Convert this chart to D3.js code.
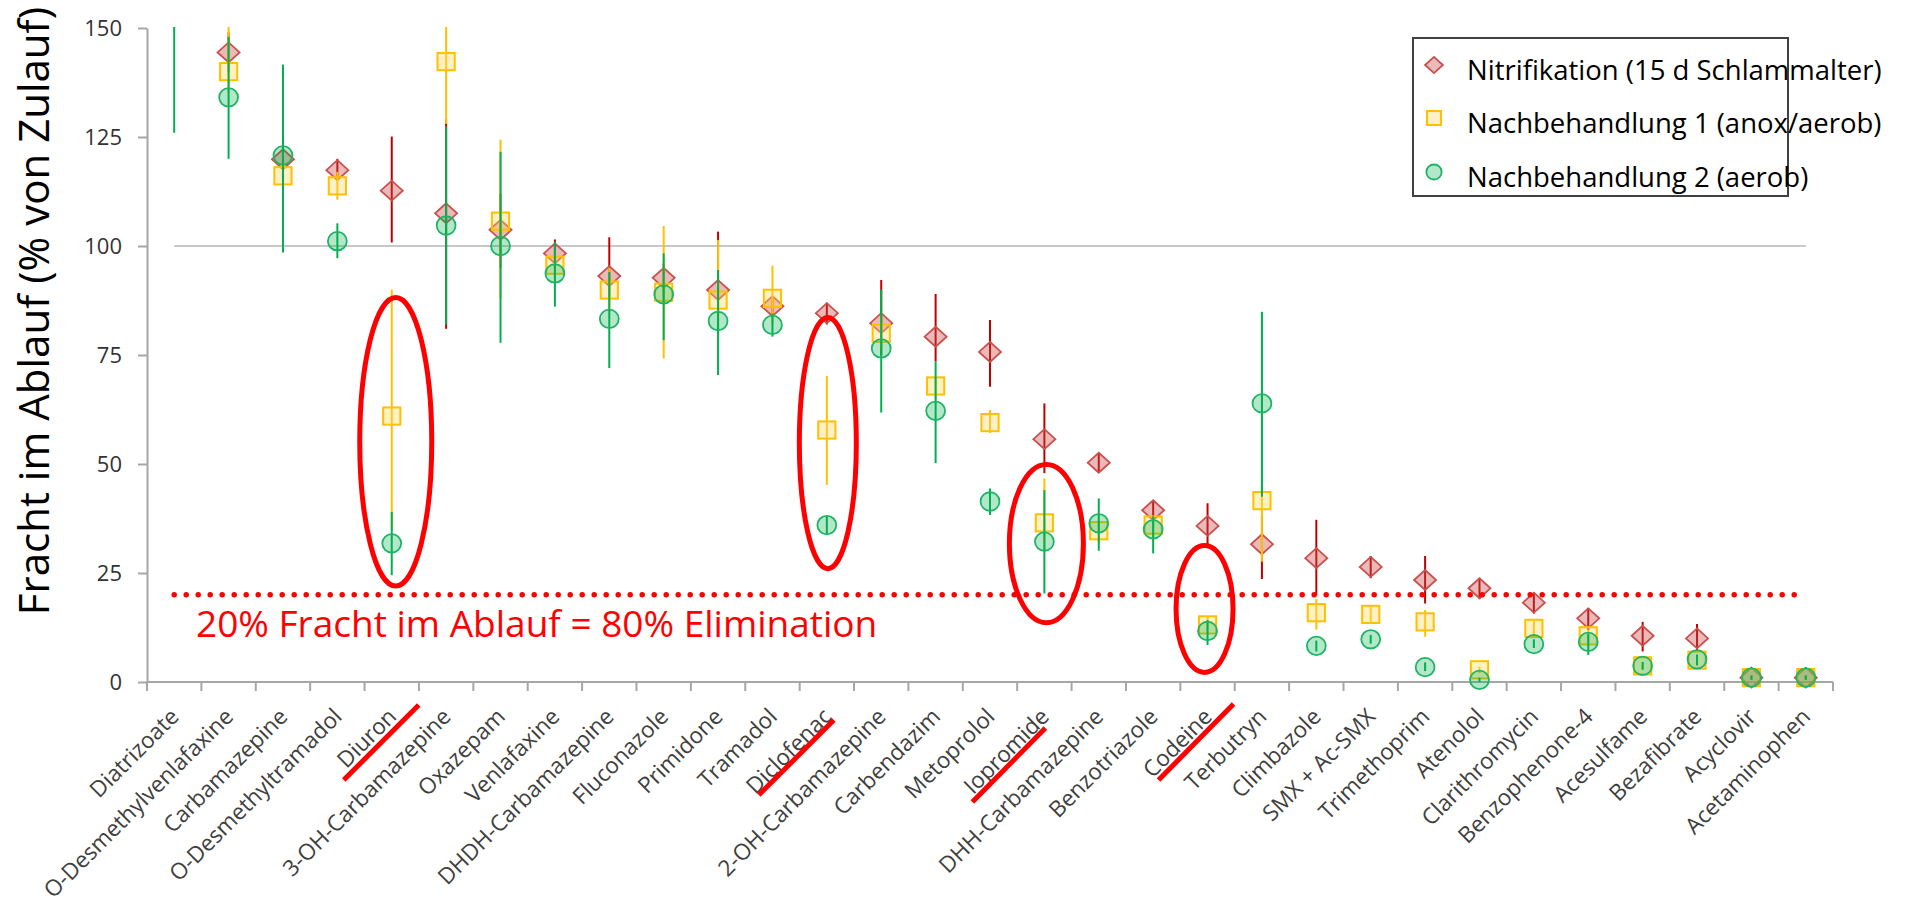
<!DOCTYPE html>
<html>
<head>
<meta charset="utf-8">
<script src="https://cdn.jsdelivr.net/npm/d3@7"></script>
<style>
  body { margin: 0; background: #fff; }
  svg { display: block; font-family: "Open Sans", sans-serif; }
</style>
</head>
<body>
<div id="chart"></div>
<script>
// categories (substances), sorted as in the original
var categories = ["Diatrizoate", "O-Desmethylvenlafaxine", "Carbamazepine", "O-Desmethyltramadol",
  "Diuron", "3-OH-Carbamazepine", "Oxazepam", "Venlafaxine", "DHDH-Carbamazepine", "Fluconazole",
  "Primidone", "Tramadol", "Diclofenac", "2-OH-Carbamazepine", "Carbendazim", "Metoprolol",
  "Iopromide", "DHH-Carbamazepine", "Benzotriazole", "Codeine", "Terbutryn", "Climbazole",
  "SMX + Ac-SMX", "Trimethoprim", "Atenolol", "Clarithromycin", "Benzophenone-4", "Acesulfame",
  "Bezafibrate", "Acyclovir", "Acetaminophen"];

// Nitrifikation (15 d Schlammalter)
var nitri   = [175, 144.4, 119.9, 117.4, 112.7, 107.5, 103.7, 98.3, 93.1, 92.7, 89.9, 86.2, 84.6, 82.3, 79.2, 75.7,
  55.7, 50.3, 39.4, 35.8, 31.6, 28.4, 26.4, 23.4, 21.5, 18.2, 14.6, 10.6, 10.0, 1.0, 1.0];
var nitriLo = [160, 140, 115, 115, 100.8, 81, 95, 95, 88, 88, 84, 84, 82, 75, 73.5, 67.7,
  47.9, 48.2, 37.2, 30.7, 23.6, 20, 23.8, 18, 19, 15.7, 11.9, 7, 7.3, 0.5, 0.5];
var nitriHi = [190, 149, 125, 120, 125.1, 129, 112, 101.5, 102, 96, 103.3, 88, 87, 92.2, 89, 83,
  63.9, 52.5, 41.7, 41, 38, 37.2, 28.9, 28.9, 23.8, 20.3, 17, 13.8, 13.3, 1.5, 1.5];

// Nachbehandlung 1 (anox/aerob)
var nb1   = [170, 140, 116.1, 113.8, 61.0, 142.3, 105.7, 95.6, 89.9, 89.4, 87.6, 88.0, 57.8, 80.0, 67.9, 59.5,
  36.5, 34.7, 36.0, 13.1, 41.6, 15.9, 15.5, 13.8, 2.8, 12.3, 10.6, 3.7, 5.0, 1.0, 1.0];
var nb1Lo = [158, 135, 110, 110.6, 35, 128, 88, 92, 85, 74.2, 80, 82, 45.2, 76, 65, 57.1,
  30, 32, 33, 11, 27.6, 12, 13.8, 10.4, 2, 10.5, 9, 3, 4, 0.5, 0.5];
var nb1Hi = [182, 152, 122, 117, 90, 155, 124.4, 99, 95, 104.6, 101.4, 95.5, 70.2, 84, 70, 62.4,
  46.7, 37, 38, 15, 45, 19, 17.3, 16.5, 3.5, 14, 12, 4.5, 6, 1.5, 1.5];

// Nachbehandlung 2 (aerob)
var nb2   = [165, 134.1, 120.8, 101.1, 31.8, 104.7, 100, 93.7, 83.3, 88.9, 82.8, 81.9, 36.0, 76.5, 62.2, 41.4,
  32.2, 36.4, 35.0, 11.7, 63.9, 8.3, 9.8, 3.4, 0.5, 8.7, 9.2, 3.7, 5.2, 1.0, 1.0];
var nb2Lo = [126, 120, 98.5, 97.2, 24.5, 82, 77.8, 86.1, 72, 78.4, 70.4, 79.2, 34, 61.8, 50.2, 38.3,
  20.3, 30.1, 29.5, 8.5, 42.5, 7, 8.8, 2.5, 0, 7.8, 6.2, 2.8, 3.8, 0.5, 0.5];
var nb2Hi = [200, 148, 141.6, 105.2, 39, 127.4, 121.6, 101, 94, 98.3, 94.5, 84.5, 38, 90, 73.5, 44.4,
  44, 42.1, 38, 14.2, 84.9, 9.5, 10.8, 4.5, 1, 9.8, 11, 4.6, 6.3, 1.5, 1.5];

var seriesNames = ["Nitrifikation (15 d Schlammalter)", "Nachbehandlung 1 (anox/aerob)", "Nachbehandlung 2 (aerob)"];
var yTicks = [0, 25, 50, 75, 100, 125, 150];
var refValue = 100;
var limitValue = 20;
var limitText = "20% Fracht im Ablauf = 80% Elimination";
var yTitle = "Fracht im Ablauf (% von Zulauf)";

// highlighted substances with the value range their red ellipse spans
var marked   = ["Diuron", "Diclofenac", "Iopromide", "Codeine"];
var markedLo = [22, 26, 13.6, 2.2];
var markedHi = [88.2, 83.6, 49.9, 31.3];

// canvas
var Width = 1914;
var Height = 903;
var svg = d3.select("#chart").append("svg")
  .attr("width", Width)
  .attr("height", Height);

var x = d3.scaleBand().domain(categories).range([147, 1833]);
var y = d3.scaleLinear().domain([0, 150]).range([682, 28]);
function cx(name) { return x(name) + x.bandwidth() / 2; }

// y axis
var yAxis = svg.append("g")
  .attr("transform", "translate(147,0)")
  .call(d3.axisLeft(y).tickValues(yTicks).tickSize(9).tickSizeOuter(0).tickPadding(16));
yAxis.select(".domain").attr("stroke", "#a6a6a6").attr("stroke-width", 2);
yAxis.selectAll(".tick line").attr("stroke", "#a6a6a6").attr("stroke-width", 2);
yAxis.selectAll(".tick text")
  .attr("font-size", 22)
  .attr("font-family", "Open Sans")
  .attr("fill", "#333");

// x axis: line, ticks between categories, rotated labels
svg.append("line")
  .attr("x1", 147).attr("x2", 1833)
  .attr("y1", y(0)).attr("y2", y(0))
  .attr("stroke", "#a6a6a6").attr("stroke-width", 2);
var bounds = categories.map(function(c) { return x(c); }).concat([x.range()[1]]);
svg.selectAll("line.xtick").data(bounds).enter()
  .append("line")
  .attr("class", "xtick")
  .attr("x1", function(d) { return d; })
  .attr("x2", function(d) { return d; })
  .attr("y1", y(0)).attr("y2", y(0) + 9)
  .attr("stroke", "#a6a6a6").attr("stroke-width", 2);
svg.selectAll("text.xlab").data(categories).enter()
  .append("text")
  .attr("class", "xlab")
  .attr("text-anchor", "end")
  .attr("font-size", 22.5)
  .attr("fill", "#404040")
  .attr("transform", function(d) { return "translate(" + (cx(d) + 6) + ",718) rotate(-45)"; })
  .text(function(d) { return d; });

// y title
svg.append("text")
  .attr("transform", "translate(49," + 311 + ") rotate(-90)")
  .attr("text-anchor", "middle")
  .attr("font-size", 42)
  .attr("fill", "#000")
  .text(yTitle);

// 100% reference line
var first = cx(categories[0]);
var last = cx(categories[categories.length - 1]);
svg.append("line")
  .attr("x1", first).attr("x2", last)
  .attr("y1", y(refValue)).attr("y2", y(refValue))
  .attr("stroke", "#c8c8c8").attr("stroke-width", 2);

// data area clipped at 150
svg.append("clipPath").attr("id", "plotclip")
  .append("rect").attr("x", 147).attr("y", 27).attr("width", 1700).attr("height", 700);
var plot = svg.append("g").attr("clip-path", "url(#plotclip)");

var series = [
  { v: nitri, lo: nitriLo, hi: nitriHi, bar: "#c00000", stroke: "#c9504d", fill: "rgba(200,70,70,0.38)", shape: "diamond" },
  { v: nb1, lo: nb1Lo, hi: nb1Hi, bar: "#ffc000", stroke: "#ffc000", fill: "rgba(255,214,90,0.35)", shape: "square" },
  { v: nb2, lo: nb2Lo, hi: nb2Hi, bar: "#00b050", stroke: "#1fb464", fill: "rgba(0,176,80,0.3)", shape: "circle" }
];

function drawMarker(g, shape, px, py, s, st) {
  if (shape === "diamond") {
    g.append("path")
      .attr("d", "M" + px + "," + (py - s * 0.95) + "L" + (px + s * 1.05) + "," + py +
        "L" + px + "," + (py + s * 0.95) + "L" + (px - s * 1.05) + "," + py + "Z")
      .attr("fill", st.fill).attr("stroke", st.stroke).attr("stroke-width", 1.8);
  }
  else if (shape === "square") {
    g.append("rect")
      .attr("x", px - s * 0.82).attr("y", py - s * 0.82)
      .attr("width", s * 1.64).attr("height", s * 1.64)
      .attr("fill", st.fill).attr("stroke", st.stroke).attr("stroke-width", 2);
  }
  else {
    g.append("ellipse")
      .attr("cx", px).attr("cy", py)
      .attr("rx", s * 0.9).attr("ry", s * 0.88)
      .attr("fill", st.fill).attr("stroke", st.stroke).attr("stroke-width", 1.8);
  }
}

series.forEach(function(st) {
  // error bars, no caps
  plot.selectAll(null).data(categories).enter()
    .append("line")
    .attr("x1", function(d) { return cx(d); })
    .attr("x2", function(d) { return cx(d); })
    .attr("y1", function(d, i) { return y(st.lo[i]); })
    .attr("y2", function(d, i) { return y(st.hi[i]); })
    .attr("stroke", st.bar).attr("stroke-width", 2);
  categories.forEach(function(c, i) {
    drawMarker(plot, st.shape, cx(c), y(st.v[i]), 10.5, st);
  });
});

// 20% limit, dotted
svg.append("line")
  .attr("x1", first).attr("x2", last)
  .attr("y1", y(limitValue)).attr("y2", y(limitValue))
  .attr("stroke", "#ff0000").attr("stroke-width", 5.5)
  .attr("stroke-linecap", "round")
  .attr("stroke-dasharray", "0 12");
svg.append("text")
  .attr("x", 196).attr("y", 637)
  .attr("font-size", 37)
  .attr("fill", "#ff0000")
  .text(limitText);

// red ellipses around highlighted substances
var ellipseDx = [4, 1, 2, -3];
var ellipseRx = [36, 28.5, 37, 28.5];
marked.forEach(function(m, i) {
  svg.append("ellipse")
    .attr("cx", cx(m) + ellipseDx[i])
    .attr("cy", (y(markedLo[i]) + y(markedHi[i])) / 2)
    .attr("rx", ellipseRx[i])
    .attr("ry", (y(markedLo[i]) - y(markedHi[i])) / 2)
    .attr("fill", "none").attr("stroke", "#ff0000").attr("stroke-width", 5);
});

// strike-through on labels (offsets from category centre / axis)
var strike = [[-48, 98, 27, 23], [-68, 113, 7, 38], [-72, 120, 1, 46], [-49, 98, 26, 22]];
marked.forEach(function(m, i) {
  var s = strike[i];
  svg.append("line")
    .attr("x1", cx(m) + s[0]).attr("y1", y(0) + s[1])
    .attr("x2", cx(m) + s[2]).attr("y2", y(0) + s[3])
    .attr("stroke", "#ff0000").attr("stroke-width", 5);
});

// legend
var legend = svg.append("g");
legend.append("rect")
  .attr("x", 1413).attr("y", 38).attr("width", 375).attr("height", 158)
  .attr("fill", "#fff").attr("stroke", "#404040").attr("stroke-width", 2);
var legendY = [80, 133, 187];
series.forEach(function(st, i) {
  drawMarker(legend, st.shape, 1434, legendY[i] - 15, 8.5, st);
  legend.append("text")
    .attr("x", 1467).attr("y", legendY[i])
    .attr("font-size", 27.5)
    .attr("fill", "#000")
    .text(seriesNames[i]);
});
</script>
</body>
</html>
